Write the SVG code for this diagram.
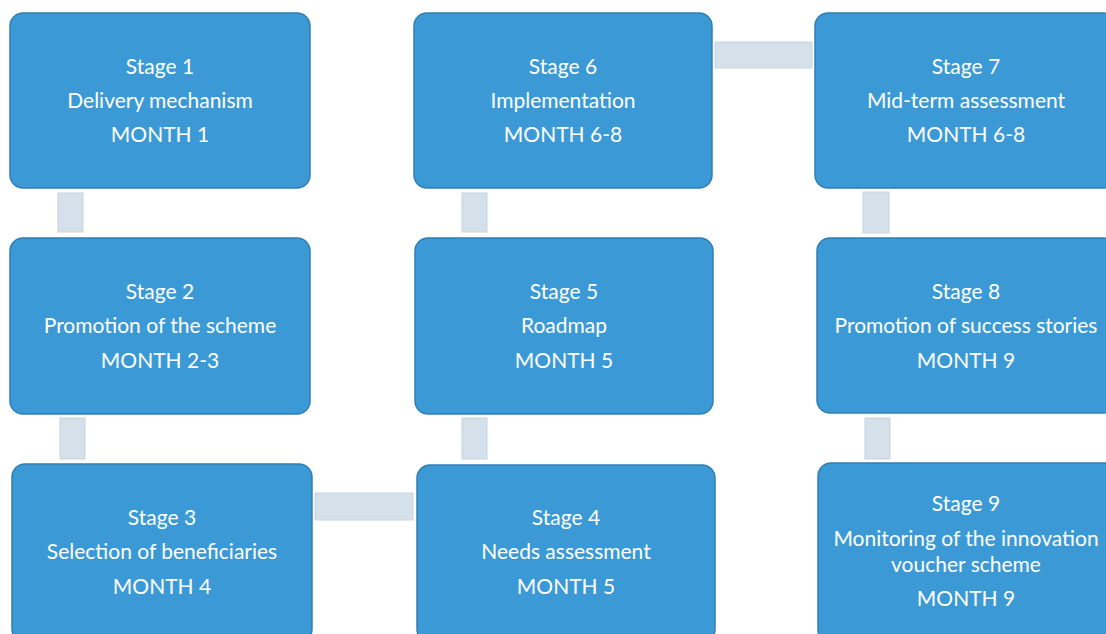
<svg xmlns="http://www.w3.org/2000/svg" width="1106" height="634" viewBox="0 0 1106 634">
<style>
.box{fill:#3b9ad6;stroke:#2f7fb3;stroke-width:1.5}
.conn{fill:#d5e1ea;stroke:#c6d4df;stroke-width:1}
text{font-family:Lato,"Liberation Sans",sans-serif;font-size:21px;fill:#ffffff;text-anchor:middle}
</style>
<rect width="1106" height="634" fill="#ffffff"/>
<g id="connectors">
<rect class="conn" x="58" y="193" width="25" height="39"/>
<rect class="conn" x="60" y="418" width="25" height="41"/>
<rect class="conn" x="315" y="493" width="98" height="27"/>
<rect class="conn" x="462" y="418" width="25" height="41"/>
<rect class="conn" x="462" y="193" width="25" height="39"/>
<rect class="conn" x="715" y="42" width="97" height="26"/>
<rect class="conn" x="863" y="192" width="26" height="41"/>
<rect class="conn" x="865" y="418" width="25" height="41"/>
</g>
<g id="stage1"><rect class="box" x="10" y="13" width="300" height="175" rx="13"/>
<text x="160" y="74">Stage 1</text><text x="160" y="108">Delivery mechanism</text><text x="160" y="142">MONTH 1</text></g>
<g id="stage2"><rect class="box" x="10" y="238" width="300" height="176" rx="13"/>
<text x="160" y="299">Stage 2</text><text x="160" y="333">Promotion of the scheme</text><text x="160" y="368">MONTH 2-3</text></g>
<g id="stage3"><rect class="box" x="12" y="464" width="300" height="178" rx="13"/>
<text x="162" y="525">Stage 3</text><text x="162" y="559">Selection of beneficiaries</text><text x="162" y="594">MONTH 4</text></g>
<g id="stage4"><rect class="box" x="417" y="465" width="298" height="177" rx="13"/>
<text x="566" y="525">Stage 4</text><text x="566" y="559">Needs assessment</text><text x="566" y="594">MONTH 5</text></g>
<g id="stage5"><rect class="box" x="415" y="238" width="298" height="176" rx="13"/>
<text x="564" y="299">Stage 5</text><text x="564" y="333">Roadmap</text><text x="564" y="368">MONTH 5</text></g>
<g id="stage6"><rect class="box" x="414" y="13" width="298" height="175" rx="13"/>
<text x="563" y="74">Stage 6</text><text x="563" y="108">Implementation</text><text x="563" y="142">MONTH 6-8</text></g>
<g id="stage7"><rect class="box" x="815" y="13" width="302" height="175" rx="13"/>
<text x="966" y="74">Stage 7</text><text x="966" y="108">Mid-term assessment</text><text x="966" y="142">MONTH 6-8</text></g>
<g id="stage8"><rect class="box" x="817" y="238" width="300" height="175" rx="13"/>
<text x="966" y="299">Stage 8</text><text x="966" y="333">Promotion of success stories</text><text x="966" y="368">MONTH 9</text></g>
<g id="stage9"><rect class="box" x="818" y="463" width="300" height="180" rx="13"/>
<text x="966" y="511">Stage 9</text><text x="966" y="546">Monitoring of the innovation</text><text x="966" y="572">voucher scheme</text><text x="966" y="606">MONTH 9</text></g>
</svg>
